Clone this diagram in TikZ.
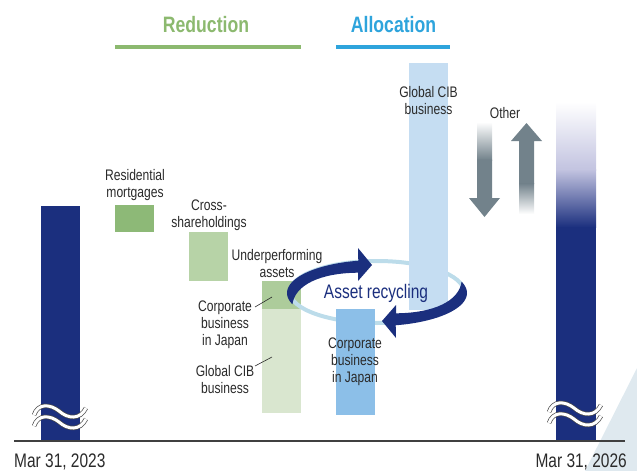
\documentclass[tikz,border=0pt]{standalone}
\usepackage{fontspec}
\setmainfont{Liberation Sans}[FakeStretch=0.79]
\begin{document}
\definecolor{navy}{HTML}{1B2F7E}
\definecolor{lav}{HTML}{C2C3E0}
\definecolor{grnA}{HTML}{8DB977}
\definecolor{grnB}{HTML}{B7D3A7}
\definecolor{grnC}{HTML}{ADCC9B}
\definecolor{grnD}{HTML}{D9E6CF}
\definecolor{bluA}{HTML}{8CBFE8}
\definecolor{bluB}{HTML}{C5DDF2}
\definecolor{ring}{HTML}{BCDCEA}
\definecolor{gry}{HTML}{72828B}
\definecolor{tri}{HTML}{DFE9EF}
\definecolor{ttlG}{HTML}{8CB96F}
\definecolor{ttlB}{HTML}{2EA4DC}
\definecolor{ink}{HTML}{2A2A2A}
\begin{tikzpicture}[x=1pt,y=-1pt,
  lbl/.style={text=ink,align=center,inner sep=0pt,font=\fontsize{15.3}{17}\selectfont},
  ttl/.style={inner sep=0pt,font=\fontsize{22.3}{26}\selectfont\bfseries},
  datelbl/.style={text=ink,inner sep=0pt,font=\fontsize{19.6}{23}\selectfont},
  leader/.style={draw=ink,line width=0.6pt},
  wavebreak/.style={draw=black!70,line width=0.7pt,double=white,double distance=3pt}]
\useasboundingbox (0,0) rectangle (637,471);

% pale wedge in the lower right corner
\fill[tri] (637,368) -- (637,471) -- (585,471) -- cycle;

% headings
\node[ttl,text=ttlG] (hRed) at (206,25) {Reduction};
\node[ttl,text=ttlB] (hAll) at (393.5,25) {Allocation};
\draw[ttlG,line width=4pt] (115,46.5) -- (301,46.5);
\draw[ttlB,line width=4pt] (336,46.5) -- (450,46.5);

% start and end bars
\fill[navy] (41,206) rectangle (80,440);
\shade[top color=white,bottom color=lav] (556,102) rectangle (596,170);
\shade[top color=lav,bottom color=navy] (556,169.6) rectangle (596,227.5);
\fill[navy] (556,227) rectangle (596,440);

% reduction bars
\fill[grnA] (115,205) rectangle (154,232);
\fill[grnB] (189,232) rectangle (228,281);
\fill[grnC] (262,281) rectangle (301,309);
\fill[grnD] (262,308.6) rectangle (301,413);

% baseline
\draw[black!75,line width=1.1pt] (14,441) -- (625,441);

% break marks
\foreach \dx/\dy in {0/0,515/-3}{
  \begin{scope}[shift={(\dx,\dy)}]
    \draw[wavebreak] (34,415) .. controls (38,403) and (50,404) .. (59,411) .. controls (68,419) and (80,420) .. (86,408);
    \draw[wavebreak] (34,426) .. controls (38,414) and (50,415) .. (59,422) .. controls (68,430) and (80,431) .. (86,419);
  \end{scope}}

% recycling ring
\draw[ring,line width=4pt] (377,292) ellipse [x radius=87,y radius=31];

% allocation bars
\fill[bluB] (409,63) rectangle (448,310);
\fill[bluA] (336,309) rectangle (375,415);

% "Other" arrows
\shade[top color=white,bottom color=gry] (477,122) rectangle (492,160);
\fill[gry] (477,159.5) -- (492,159.5) -- (492,198) -- (500,198) -- (484.5,217) -- (469,198) -- (477,198) -- cycle;
\fill[gry] (526.5,123) -- (542,141) -- (534,141) -- (534,184) -- (519,184) -- (519,141) -- (511,141) -- cycle;
\shade[top color=gry,bottom color=white] (519,183.5) rectangle (534,214);

% curved recycling arrows
\foreach \rot in {0,180}{
  \begin{scope}[rotate around={\rot:(377,293)}]
    \fill[navy] plot[domain=160:258,samples=40] ({377+90*cos(\x)},{293+33*sin(\x)})
      -- (358,248) -- (372,265) -- (358,281) -- (358,272.7)
      .. controls (320,273) and (295,285) .. (292.4,304.3) -- cycle;
  \end{scope}}

% labels
\node[lbl] (lRes) at (135,185.5) {Residential\\mortgages};
\node[lbl] (lCross) at (209,215) {Cross-\\shareholdings};
\node[lbl] (lUnder) at (277,264) {Underperforming\\assets};
\node[lbl] (lCorpL) at (225,324.5) {Corporate\\business\\in Japan};
\node[lbl] (lGcibL) at (225,379.5) {Global CIB\\business};
\node[lbl] (lGcibR) at (428.5,101) {Global CIB\\business};
\node[lbl] (lCorpR) at (355,362) {Corporate\\business\\in Japan};
\node[lbl] (lOther) at (505,113) {Other};
\node[inner sep=0pt,text=navy,font=\fontsize{19.6}{23}\selectfont] (lAsset) at (376,293) {Asset recycling};
\node[datelbl,anchor=base west] (d1) at (14,467.5) {Mar 31, 2023};
\node[datelbl,anchor=base east] (d2) at (627,467.5) {Mar 31, 2026};

% leader lines
\coordinate (c1) at (255,307);
\coordinate (c2) at (272,297);
\coordinate (g1) at (255,366);
\coordinate (g2) at (272,357);
\draw[leader] (c1) -- (c2);
\draw[leader] (g1) -- (g2);
\end{tikzpicture}
\end{document}
